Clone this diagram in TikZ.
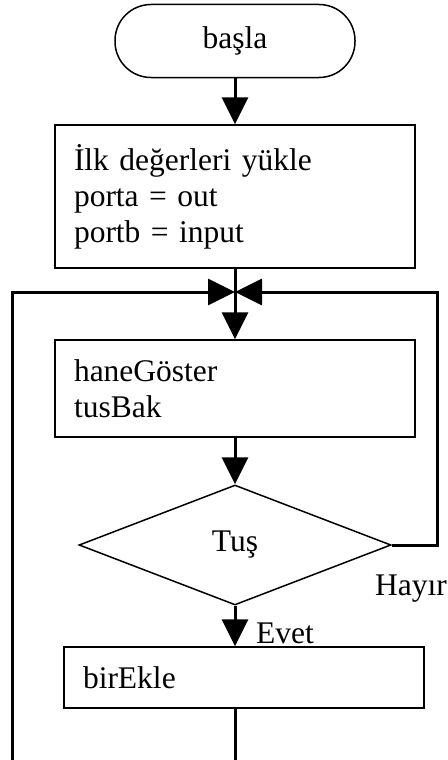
\documentclass[tikz,border=0pt]{standalone}
\usepackage{fontspec}
\setmainfont{Liberation Serif}
\usetikzlibrary{arrows.meta,shapes.geometric}
\begin{document}
\begin{tikzpicture}[x=1pt,y=-1pt,line join=miter,
  txt/.style={font=\fontsize{31.5}{36}\selectfont},
  conn/.style={line width=3pt},
  arr/.style={conn,-{Triangle[length=27pt,width=26pt]}},
  procbox/.style={draw,line width=1.5pt,txt,align=left,inner xsep=19pt,inner ysep=0pt,text width=322pt,minimum width=360pt},
]
\useasboundingbox (0,0) rectangle (447,760);
\node[draw,line width=1.5pt,rounded corners=36pt,minimum width=240pt,minimum height=73pt,txt] (start) at (235,41) {başla};
\node[procbox,minimum height=143pt] (init) at (235,196.5) {İlk değerleri yükle\\porta = out\\portb = input};
\node[procbox,minimum height=97pt] (show) at (235,388.5) {haneGöster\\tusBak};
\node[draw,diamond,line width=1.5pt,minimum width=312pt,minimum height=120pt,inner sep=0pt,txt] (dia) at (235,545) {Tuş};
\node[procbox,minimum height=61pt] (add) at (244,677.5) {birEkle};
\coordinate (j) at (235,292);
\coordinate (lc) at (12,292);
\coordinate (rc) at (437,292);
\coordinate (bl) at (12,760);
\coordinate (bm) at (235,760);
\draw[arr] (start) -- (init);
\draw[arr] (init) -- (show);
\draw[arr] (show) -- (dia);
\draw[arr] (dia) -- (dia.south |- add.north);
\draw[conn] (add.south -| dia.south) -- (bm);
\draw[arr] (bl) -- (lc) -- (j);
\draw[arr] (dia.east) -| (rc) -- (j);
\node[txt,anchor=base west,inner sep=0pt] (evet) at (256,643) {Evet};
\node[txt,anchor=base west,inner sep=0pt] (hayir) at (375,595) {Hayır};
\end{tikzpicture}
\end{document}
